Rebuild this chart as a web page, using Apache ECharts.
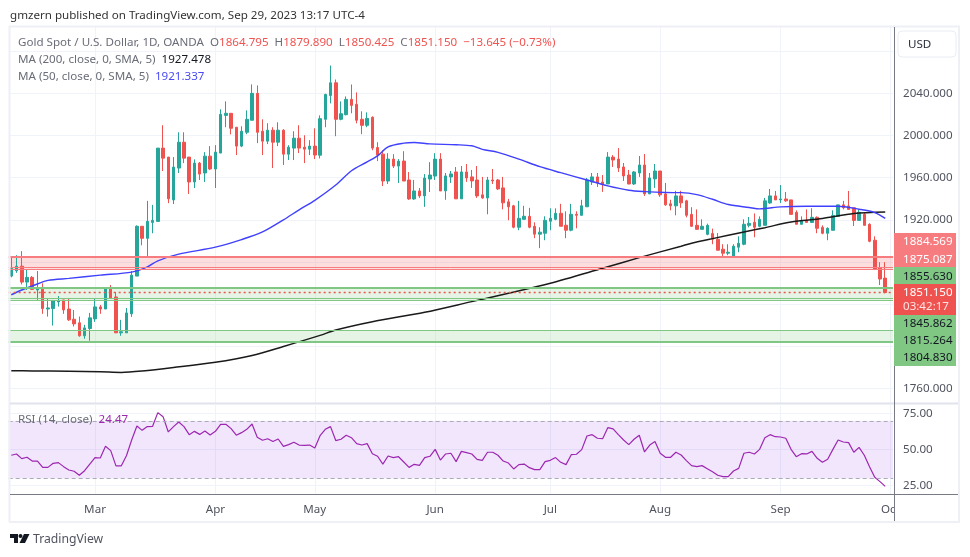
<!DOCTYPE html>
<html>
<head>
<meta charset="utf-8">
<title>Gold Spot / U.S. Dollar</title>
<script src="https://cdn.jsdelivr.net/npm/echarts@6/dist/echarts.min.js"></script>
<style>
html, body { margin: 0; padding: 0; background: #fff; }
#main { width: 970px; height: 557px; }
</style>
</head>
<body>
<div id="main"></div>
<script>
var dates = [
    '02-07','02-08','02-09','02-10','02-13','02-14','02-15','02-16','02-17','02-20','02-21','02-22','02-23','02-24','02-27','02-28',
    '03-01','03-02','03-03','03-06','03-07','03-08','03-09','03-10','03-13','03-14','03-15','03-16','03-17','03-20','03-21','03-22','03-23','03-24','03-27','03-28','03-29','03-30','03-31',
    '04-03','04-04','04-05','04-06','04-10','04-11','04-12','04-13','04-14','04-17','04-18','04-19','04-20','04-21','04-24','04-25','04-26','04-27','04-28',
    '05-01','05-02','05-03','05-04','05-05','05-08','05-09','05-10','05-11','05-12','05-15','05-16','05-17','05-18','05-19','05-22','05-23','05-24','05-25','05-26','05-29','05-30','05-31',
    '06-01','06-02','06-05','06-06','06-07','06-08','06-09','06-12','06-13','06-14','06-15','06-16','06-19','06-20','06-21','06-22','06-23','06-26','06-27','06-28','06-29','06-30',
    '07-03','07-04','07-05','07-06','07-07','07-10','07-11','07-12','07-13','07-14','07-17','07-18','07-19','07-20','07-21','07-24','07-25','07-26','07-27','07-28','07-31',
    '08-01','08-02','08-03','08-04','08-07','08-08','08-09','08-10','08-11','08-14','08-15','08-16','08-17','08-18','08-21','08-22','08-23','08-24','08-25','08-28','08-29','08-30','08-31',
    '09-01','09-04','09-05','09-06','09-07','09-08','09-11','09-12','09-13','09-14','09-15','09-18','09-19','09-20','09-21','09-22','09-25','09-26','09-27','09-28','09-29',
    '10-02'
];
var monthTicks = { '03-01': 'Mar', '04-03': 'Apr', '05-01': 'May', '06-01': 'Jun', '07-03': 'Jul', '08-01': 'Aug', '09-01': 'Sep', '10-02': 'Oct' };

var opens = [
    1866.7,1871.7,1876.1,1861,1865.5,1853.5,1854.4,1835.5,1835.9,1842.2,
    1844.1,1835.5,1825.8,1822.4,1810.1,1817,1826.1,1837.5,1835.5,1855.4,
    1846.9,1812.9,1812.9,1830.9,1866.7,1913.9,1902.5,1917.6,1918.5,1988,
    1979.5,1938.9,1969.1,1993.6,1979.5,1955.9,1973.8,1964.4,1980.4,1968.2,
    1983.3,2019,2021,2007.8,1989.9,2003,2014.4,2039.9,2004,1994.6,
    2005,1993.6,2005,1982.3,1988,1997.4,1988.9,1987,1989.9,1981.3,
    2015.3,2037.9,2049.9,2015.3,2019.7,2034.2,2029.5,2015.3,2009.6,2017.2,
    1988.6,1982.3,1956.8,1977.6,1971,1975.7,1957.8,1939.8,1947.4,1942.7,
    1958.7,1961.5,1977.6,1947.5,1960.7,1965.4,1939.9,1965.4,1960.7,1957.8,
    1943.7,1940.8,1957.8,1957.8,1950.3,1937.1,1933.3,1913,1920.5,1923.4,
    1913.9,1906.4,1907.3,1918.7,1920.5,1926.2,1914.9,1910.2,1925.3,1924.3,
    1932.4,1955.9,1960.7,1955.9,1954,1979.5,1977.6,1970.1,1962.5,1954,
    1964.4,1972,1944.6,1958.8,1966.3,1944.6,1935.2,1933.3,1942.7,1938,
    1925.2,1914.8,1911,1906.3,1907,1901.6,1892.2,1888.4,1885.5,1894.1,
    1896.9,1914.8,1917.7,1913.9,1914.8,1936,1942.7,1938.9,1939.8,1938.9,
    1927.1,1915.8,1919.5,1917.6,1922.4,1912.9,1907.3,1910.1,1923.3,1934.2,
    1933.2,1931.4,1919.5,1925.2,1915.8,1900.7,1874.2,1864.795
];
var closes = [
    1873.9,1876.1,1861,1865.5,1854.1,1854.7,1835.9,1836.5,1843.4,1843.4,
    1834.6,1825.2,1821.4,1810.1,1817.6,1827.1,1837.5,1835.5,1855.4,1845.9,
    1812.9,1813.9,1831.8,1867.6,1913.9,1902.5,1918.6,1919.5,1988,1978.5,
    1939.9,1970,1993.6,1978.5,1955.9,1973.8,1963.4,1980.4,1968.2,1984.2,
    2020,2021,2006.8,1989.9,2004,2015.3,2039.9,2003,1994.6,2005,
    1993.6,2005,1982.3,1988.9,1997.4,1988,1987,1989.9,1981.4,2015.9,
    2038.9,2049.9,2015.3,2020.6,2034.2,2028.5,2014.4,2009.6,2016.2,1988,
    1981.3,1956.8,1977.6,1971,1975.7,1956.8,1939.8,1947.4,1942.7,1959.6,
    1962.5,1977.6,1947.4,1961.6,1963.5,1939.9,1965.4,1959.7,1956.9,1942.7,
    1940.8,1957.8,1956.9,1949.3,1936.1,1932.4,1913,1921.5,1923.4,1913,
    1906.4,1908.3,1919.6,1921.5,1926.2,1913.9,1910.2,1925.3,1924.3,1933.3,
    1957.8,1960.7,1955,1954,1979.5,1976.7,1969.2,1961.6,1954,1965.4,
    1972,1944.6,1959.7,1966.3,1943.7,1934.2,1933.3,1942.7,1936.1,1924.3,
    1913.9,1911,1913.9,1914.8,1901.6,1891.2,1888.4,1889.3,1895,1897.8,
    1915.8,1916.7,1912.9,1920.5,1938,1942.7,1938.9,1939.8,1938,1925.2,
    1915.8,1919.5,1917.6,1922.4,1912,1907.3,1912,1924.2,1934.2,1931.4,
    1929.9,1919.5,1927.1,1914.8,1899.7,1873.3,1863.9,1851.15
];
var lows = [
    1865.5,1869.8,1858.8,1853.5,1853.5,1844.1,1830.9,1828.3,1819.8,1837.8,
    1830.9,1824.2,1818.9,1809.2,1807.3,1805.4,1823.3,1830.9,1835.5,1845.9,
    1812.9,1810.1,1812.9,1828,1866.7,1895.9,1885.5,1907.3,1918.5,1966.3,
    1935.8,1935,1964.4,1973.8,1944.6,1950.2,1957.8,1955.9,1967.2,1950.2,
    1983.3,2007.8,2001,1981.4,1988.9,2001.2,2014.4,1992.7,1981.4,1991.8,
    1969.1,1989.9,1972,1976.7,1976.7,1983.3,1973.8,1981.4,1977.6,1978.2,
    2007.8,2030.4,1999.3,2014.4,2019,2021,2011.5,2001.2,2007.8,1986,
    1975.7,1952,1954,1969.1,1954.9,1956.8,1938.9,1938.9,1940.8,1932.3,
    1946.4,1957.8,1947.4,1939,1955,1939.9,1939.9,1956,1950.3,1940.8,
    1939.9,1925.3,1954,1948.4,1930,1919.6,1912,1910.2,1920.2,1912,
    1902.6,1893.2,1900.7,1910.2,1919.6,1913.9,1902.6,1909.2,1912,1924.3,
    1932.4,1953.1,1951.2,1946.5,1954,1970.1,1965.4,1956.9,1953.7,1953.1,
    1960.7,1942.7,1944.6,1950.3,1941.8,1933.3,1929,1924.3,1931.4,1922.4,
    1913.2,1910.7,1911,1905.4,1896.9,1891.2,1885.5,1886.5,1884.6,1889.3,
    1895.9,1912.9,1903.5,1912.9,1914.8,1935.1,1938.9,1936,1937,1925.2,
    1915.8,1915.8,1917.6,1917,1907.3,1906.3,1900.7,1910.1,1923.3,1929.9,
    1929.9,1914.2,1919.5,1914.8,1898.8,1872.4,1858.2,1850.425
];
var highs = [
    1884.9,1886.5,1890.3,1872.4,1866.7,1871.5,1859.8,1845.5,1844.1,1847.8,
    1844.1,1845.5,1834.6,1828.3,1820.5,1831.8,1845,1839.3,1856.3,1858.2,
    1851.6,1825.2,1836.5,1871.4,1914.8,1913.9,1938,1934.2,1988,2009.7,
    1979.5,1979.5,2003,2003,1979.5,1977.3,1974.8,1984.2,1989.9,1990.8,
    2024.8,2032.3,2021,2007.8,2008.7,2023.8,2048.4,2047.4,2015.3,2011.6,
    2007.8,2012.5,2005.9,1990.8,2004,2009.7,2000.2,1995.5,2006.8,2019,
    2039.5,2066.2,2053,2032.3,2037,2048.3,2040.8,2022.9,2021.9,2018.1,
    1993.6,1986,1983.2,1982.3,1977.6,1985.1,1965.3,1957.8,1950.2,1963.4,
    1974.7,1983.2,1983.2,1964.4,1966.3,1970.1,1971,1972.9,1967.3,1971,
    1960.7,1960.7,1968.2,1958.8,1960.7,1939.9,1934.2,1938,1933.3,1931.4,
    1917.7,1913,1923.4,1930.9,1930.9,1935.2,1928.1,1935.2,1928.1,1939,
    1959.7,1964.4,1964.4,1962.5,1984.2,1981.4,1988,1973.9,1967.3,1966.3,
    1980.5,1982.4,1964.4,1972.9,1966.3,1955,1939,1947.5,1947.5,1939,
    1932,1929.9,1920.5,1916.4,1911.7,1907.5,1896.9,1896.9,1896.9,1904.4,
    1920.5,1922.7,1926.1,1923.3,1940.8,1949.3,1947.4,1953,1946.4,1938.9,
    1929,1923.3,1929.9,1931,1923.3,1914.8,1912.9,1929,1934.2,1938,
    1947.4,1931.4,1929.9,1927.1,1916.7,1904.4,1879.9,1879.89
];

// moving averages at these candle positions
var ma50Idx = [0,2,4,7,11,17,23,26,28,32,39,44,48,52,55,58,62,65,68,70,72,75,77,80,85,88,90,93,97,101,105,110,114,118,121,125,128,131,134,137,141,143,147,152,158,162,165,167];
var ma50Vals = [1849,1853.5,1857.3,1862.6,1864.5,1867.6,1870.5,1875.5,1881.2,1887.5,1894.1,1901.3,1908.5,1920,1929.5,1938.5,1953,1966.6,1975,1980.7,1989.2,1992.7,1993.3,1992,1991.2,1990.2,1986.8,1984,1977.6,1970.4,1964.7,1957.8,1952.2,1948.1,1946.8,1945.9,1945.8,1943.9,1939.5,1934.5,1931.7,1930.4,1932.3,1932.9,1932.9,1930.1,1926.9,1921.337];
var ma200Idx = [0,4,11,17,21,25,31,39,46,52,59,62,69,79,88,95,103,113,120,128,130,134,140,144,149,155,161,167];
var ma200Vals = [1777,1776.8,1776.5,1776.1,1775.4,1776.7,1780,1785,1791.5,1800,1810.5,1815.6,1823.5,1832.4,1842.5,1850.4,1859.9,1874.1,1884.2,1895,1897.8,1902.2,1908.5,1912.6,1918,1921.3,1926,1927.478];

var rsi = [
    46.1,47,43.8,44.7,42.1,42.1,37.7,37.7,40.5,41,
    38.2,35.9,35,32.2,35.4,40,44.5,44.2,52.3,49.3,
    38.7,38.7,45.8,56.7,66.4,63.4,66,66.2,75.7,72.9,
    62.3,66,69.2,66,60.4,62.7,60.6,63,60.2,62.7,
    67.6,67.6,64.6,60,61.8,64.1,67.8,58.6,56.5,57.6,
    55.6,57.4,52.3,53.5,55.1,53.2,53,53.2,51.2,59.7,
    64.1,66,56.3,57.2,60,58.3,54.2,53.2,54.2,47.2,
    45.4,40,45.6,44.5,45.1,41.4,37.7,39.8,39.1,44.5,
    45.4,50.2,42.8,47,47.5,41.7,48.8,47.9,47,43.3,
    42.6,48.2,48.2,46.1,42.1,40.7,36.6,39.6,40,37.5,
    36.1,36.1,41.7,42.6,44.5,41.2,39.6,46.5,46.8,50,
    59.5,60.4,57.9,57.6,65.3,64.4,60.4,56.7,53.5,57.2,
    60,48.4,53.2,55.6,47.5,44.7,44.7,48.2,46.3,42.4,
    38.9,38.2,38.9,36.8,34.7,32.2,31.3,31.3,35.2,37,
    47.5,48.2,47,50.2,58.3,60.4,59,58.8,57.9,50.2,
    45.1,47.2,47,48.8,44,41.2,43.3,50.2,56.7,55.3,
    54.9,48.2,51.6,46.1,38.2,30.8,27.8,24.47
];

var priceLabels = [2040, 2000, 1960, 1920, 1760];
var priceGrid = [2080, 2040, 2000, 1960, 1920, 1880, 1840, 1800, 1760];
var rsiLabels = [75, 50, 25];
var redZone = [1884.569, 1875.087, 1873.2];
var greenZoneHigh = [1855.63, 1845.862, 1843.8];
var greenZoneLow = [1815.264, 1804.83];
var lastPrice = 1851.15;

var FONT = '"Noto Sans", sans-serif';
var SIZE = 11.6;
var UP = '#26a69a', DOWN = '#ef5350', GRIDLINE = '#f0f3fa', AXIS = '#787b86';
var RED_LINE = '#f77c80', GREEN_LINE = '#81c784';

var candles = opens.map(function (o, i) {
    return [o, closes[i], lows[i], highs[i]];
});
function pairs(idx, vals) {
    return idx.map(function (k, i) { return [k, vals[i]]; });
}
function isMonth(i, name) { return monthTicks[name] !== undefined; }

function text(x, y, str, fill, size, align) {
    return {
        type: 'text', z: 101, x: x, y: y, silent: true,
        style: { text: str, fill: fill, font: (size || SIZE) + 'px ' + FONT, textAlign: align || 'left', textVerticalAlign: 'middle' }
    };
}
function box(x, y, w, h, fill) {
    return { type: 'rect', z: 100, silent: true, shape: { x: x, y: y, width: w, height: h }, style: { fill: fill } };
}
function vline(x, y1, y2, color, w) {
    return { type: 'line', z: 100, silent: true, shape: { x1: x, y1: y1, x2: x, y2: y2 }, style: { stroke: color, lineWidth: w || 1 } };
}
function hline(y, x1, x2, color, w) {
    return { type: 'line', z: 100, silent: true, shape: { x1: x1, y1: y, x2: x2, y2: y }, style: { stroke: color, lineWidth: w || 1 } };
}

var legendRich = {
    g: { fill: '#6a6d78', font: SIZE + 'px ' + FONT },
    r: { fill: DOWN, font: SIZE + 'px ' + FONT }
};

var overlay = [
    // frame
    hline(26.5, 9, 960, '#eef0f6', 2), hline(522, 9, 960, '#eef0f6', 2),
    vline(9.5, 26, 522, '#eef0f6', 2), vline(959, 26, 522, '#eef0f6', 2),
    hline(403.5, 10, 958, '#e0e3eb', 2),
    box(895, 496, 63, 25, '#ffffff'),
    hline(494.5, 10, 958, AXIS, 1),
    vline(894.5, 27, 521, AXIS, 1),
    // currency button
    {
        type: 'rect', z: 100, silent: true,
        shape: { x: 898, y: 31, width: 58, height: 26, r: 4 },
        style: { fill: '#fff', stroke: '#e9ecf2', lineWidth: 1 }
    },
    text(908, 44.5, 'USD', '#2a2e39'),
    // price tags
    box(894, 233, 62, 34, RED_LINE),
    box(894, 267, 62, 17, GREEN_LINE),
    box(894, 284, 62, 31, DOWN),
    box(894, 315, 62, 51, GREEN_LINE),
    text(903, 242, '1884.569', '#fff'),
    text(903, 259.5, '1875.087', '#fff'),
    text(903, 276.5, '1855.630', '#131722'),
    text(903, 293, '1851.150', '#fff'),
    text(903, 307, '03:42:17', '#fde3e3'),
    text(903, 324, '1845.862', '#131722'),
    text(903, 341, '1815.264', '#131722'),
    text(903, 358, '1804.830', '#131722'),
    // header and legends
    text(10, 15.5, 'gmzern published on TradingView.com, Sep 29, 2023 13:17 UTC-4', '#333'),
    {
        type: 'text', z: 101, x: 18, y: 42.5, silent: true,
        style: {
            text: '{g|Gold Spot / U.S. Dollar, 1D, OANDA  O}{r|1864.795}{g|  H}{r|1879.890}{g|  L}{r|1850.425}{g|  C}{r|1851.150}{r|  \u221213.645 (\u22120.73%)}',
            rich: legendRich, textVerticalAlign: 'middle'
        }
    },
    {
        type: 'text', z: 101, x: 18, y: 59.5, silent: true,
        style: { text: '{g|MA (200, close, 0, SMA, 5)  }{k|1927.478}', rich: { g: legendRich.g, k: { fill: '#131722', font: SIZE + 'px ' + FONT } }, textVerticalAlign: 'middle' }
    },
    {
        type: 'text', z: 101, x: 18, y: 76.5, silent: true,
        style: { text: '{g|MA (50, close, 0, SMA, 5)  }{b|1921.337}', rich: { g: legendRich.g, b: { fill: '#4a4af5', font: SIZE + 'px ' + FONT } }, textVerticalAlign: 'middle' }
    },
    {
        type: 'text', z: 101, x: 18, y: 419.5, silent: true,
        style: { text: '{g|RSI (14, close)  }{p|24.47}', rich: { g: legendRich.g, p: { fill: '#9c27b0', font: SIZE + 'px ' + FONT } }, textVerticalAlign: 'middle' }
    },
    // logo
    {
        type: 'polygon', z: 101, silent: true,
        shape: { points: [[10, 534], [18, 534], [18, 543], [14, 543], [14, 538], [10, 538]] },
        style: { fill: '#131722' }
    },
    { type: 'circle', z: 101, silent: true, shape: { cx: 20.5, cy: 536, r: 2 }, style: { fill: '#131722' } },
    {
        type: 'polygon', z: 101, silent: true,
        shape: { points: [[24, 534], [29.5, 534], [25, 543], [19.5, 543]] },
        style: { fill: '#131722' }
    },
    text(33, 539.5, 'TradingView', '#50535e', 12.2)
];

var chart = echarts.init(document.getElementById('main'), null, { renderer: 'canvas' });
var option = {
    animation: false,
    backgroundColor: '#ffffff',
    textStyle: { fontFamily: FONT },
    axisPointer: { show: false },
    grid: [
        { left: 8.68, top: 27, width: 884.4, height: 376, containLabel: false },
        { left: 8.68, top: 405, width: 884.4, height: 89.3, containLabel: false }
    ],
    xAxis: [
        {
            type: 'category', gridIndex: 0, data: dates,
            axisLine: { show: false }, axisTick: { show: false }, axisLabel: { show: false },
            splitLine: { show: true, interval: isMonth, alignWithLabel: true, lineStyle: { color: GRIDLINE, width: 1 } }
        },
        {
            type: 'category', gridIndex: 1, data: dates,
            axisLine: { show: false }, axisTick: { show: false },
            axisLabel: {
                interval: isMonth, color: '#50535e', fontSize: SIZE, margin: 9, fontFamily: FONT, hideOverlap: false,
                formatter: function (v) { return monthTicks[v] || ''; }
            },
            splitLine: { show: true, interval: isMonth, alignWithLabel: true, lineStyle: { color: GRIDLINE, width: 1 } }
        }
    ],
    yAxis: [
        {
            type: 'value', gridIndex: 0, position: 'right', min: 1746.4, max: 2102.8, scale: true,
            axisLine: { show: false },
            axisTick: { show: false, customValues: priceGrid },
            axisLabel: {
                customValues: priceLabels, color: '#50535e', fontSize: SIZE, margin: 10, fontFamily: FONT, padding: [2, 0, 0, 0],
                formatter: function (v) { return v.toFixed(3); }
            },
            splitLine: { show: true, lineStyle: { color: GRIDLINE, width: 1 } }
        },
        {
            type: 'value', gridIndex: 1, position: 'right', min: 19, max: 81, scale: true,
            axisLine: { show: false },
            axisTick: { show: false, customValues: rsiLabels },
            axisLabel: {
                customValues: rsiLabels, color: '#50535e', fontSize: SIZE, margin: 10, fontFamily: FONT, padding: [2, 0, 0, 0],
                formatter: function (v) { return v.toFixed(2); }
            },
            splitLine: { show: true, lineStyle: { color: GRIDLINE, width: 1 } }
        }
    ],
    series: [
        {
            // support and resistance bands sit under the candles
            type: 'line', name: 'zones', xAxisIndex: 0, yAxisIndex: 0, data: [], z: 1, silent: true,
            markArea: {
                silent: true,
                data: [
                    [{ yAxis: redZone[0], itemStyle: { color: 'rgba(247,124,128,0.25)' } }, { yAxis: redZone[2] }],
                    [{ yAxis: greenZoneHigh[0], itemStyle: { color: 'rgba(129,199,132,0.2)' } }, { yAxis: greenZoneHigh[2] }],
                    [{ yAxis: greenZoneLow[0], itemStyle: { color: 'rgba(129,199,132,0.2)' } }, { yAxis: greenZoneLow[1] }]
                ]
            },
            markLine: {
                silent: true, symbol: 'none', label: { show: false },
                data: [
                    { yAxis: redZone[0], lineStyle: { color: RED_LINE, width: 2, type: 'solid' } },
                    { yAxis: redZone[1], lineStyle: { color: RED_LINE, width: 1, type: 'solid' } },
                    { yAxis: redZone[2], lineStyle: { color: RED_LINE, width: 1, type: 'solid' } },
                    { yAxis: greenZoneHigh[0], lineStyle: { color: GREEN_LINE, width: 2, type: 'solid' } },
                    { yAxis: greenZoneHigh[1], lineStyle: { color: GREEN_LINE, width: 1, type: 'solid' } },
                    { yAxis: greenZoneHigh[2], lineStyle: { color: GREEN_LINE, width: 1, type: 'solid' } },
                    { yAxis: greenZoneLow[0], lineStyle: { color: GREEN_LINE, width: 1, type: 'solid' } },
                    { yAxis: greenZoneLow[1], lineStyle: { color: GREEN_LINE, width: 2, type: 'solid' } },
                    { yAxis: lastPrice, lineStyle: { color: DOWN, width: 1.3, type: [2, 3] } }
                ]
            }
        },
        {
            type: 'candlestick', name: 'Gold', xAxisIndex: 0, yAxisIndex: 0, data: candles, z: 3, barWidth: 3,
            itemStyle: { color: UP, color0: DOWN, borderColor: UP, borderColor0: DOWN, borderWidth: 1 }
        },
        {
            type: 'line', name: 'MA 200', xAxisIndex: 0, yAxisIndex: 0, data: pairs(ma200Idx, ma200Vals), z: 4,
            showSymbol: false, smooth: 0.3, lineStyle: { color: '#1a1a1a', width: 1.5 }
        },
        {
            type: 'line', name: 'MA 50', xAxisIndex: 0, yAxisIndex: 0, data: pairs(ma50Idx, ma50Vals), z: 4,
            showSymbol: false, smooth: 0.3, lineStyle: { color: '#4040ff', width: 1.4 }
        },
        {
            type: 'line', name: 'RSI', xAxisIndex: 1, yAxisIndex: 1, data: rsi, z: 4,
            showSymbol: false, lineStyle: { color: '#9c27b0', width: 1.2 },
            markArea: {
                silent: true,
                itemStyle: { color: 'rgba(150,50,240,0.12)' },
                data: [[{ yAxis: 70 }, { yAxis: 30 }]]
            },
            markLine: {
                silent: true, symbol: 'none', label: { show: false },
                lineStyle: { color: '#aaacb5', width: 1, type: [4, 3] },
                data: [{ yAxis: 70 }, { yAxis: 30 }]
            }
        }
    ],
    graphic: { elements: overlay }
};
chart.setOption(option);
</script>
</body>
</html>
